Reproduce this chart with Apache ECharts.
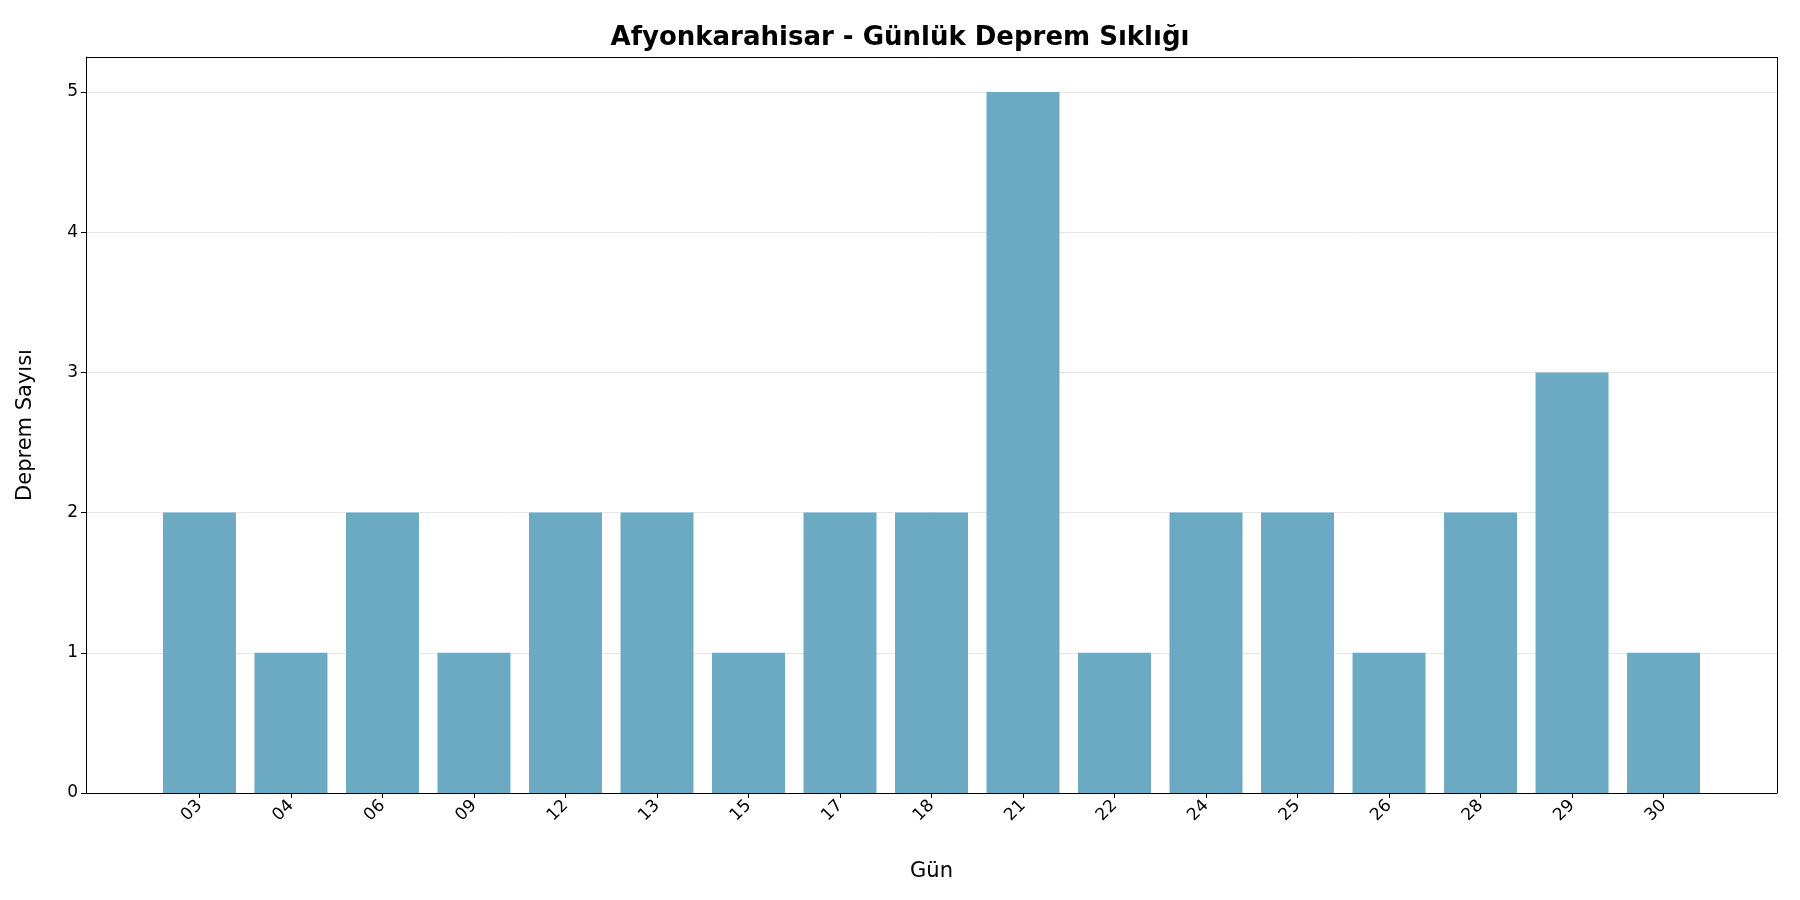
<!DOCTYPE html>
<html><head><meta charset="utf-8">
<script src="https://cdn.jsdelivr.net/npm/echarts@6/dist/echarts.min.js"></script>
<style>html,body{margin:0;padding:0;background:#fff}#c{width:1800px;height:900px}</style>
</head><body><div id="c"></div>
<script>
const days = ["03","04","06","09","12","13","15","17","18","21","22","24","25","26","28","29","30"];
const counts = [2,1,2,1,2,2,1,2,2,5,1,2,2,1,2,3,1];
const yTicks = [0,1,2,3,4,5];
const idx = days.map((d,i)=>i);
const chart = echarts.init(document.getElementById('c'));
const font = 'DejaVu Sans';
chart.setOption({
  animation:false,
  title:{text:'Afyonkarahisar - Günlük Deprem Sıklığı',left:'center',top:20,
    textStyle:{fontFamily:font,fontSize:26,fontWeight:'bold',color:'#000'}},
  grid:{left:86,right:23,top:57,bottom:107},
  xAxis:{type:'value',min:-1.24,max:17.24,name:'Gün',nameLocation:'middle',nameGap:68,
    nameTextStyle:{fontFamily:font,fontSize:21,color:'#000'},
    axisLine:{show:true,onZero:false,lineStyle:{color:'#000'}},
    splitLine:{show:false},
    axisTick:{show:true,customValues:idx,length:5,lineStyle:{color:'#000'}},
    axisLabel:{customValues:idx,rotate:45,fontFamily:font,fontSize:17,color:'#000',margin:10,
      formatter:v=>days[Math.round(v)]}},
  yAxis:{type:'value',min:0,max:5.25,name:'Deprem Sayısı',nameLocation:'middle',nameGap:50,
    nameTextStyle:{fontFamily:font,fontSize:21,color:'#000'},
    axisLine:{show:true,onZero:false,lineStyle:{color:'#000'}},
    axisTick:{show:true,customValues:yTicks,length:5,lineStyle:{color:'#000'}},
    axisLabel:{customValues:yTicks,fontFamily:font,fontSize:17,color:'#000'},
    splitLine:{show:true,lineStyle:{color:'#e6e6e6',width:1}}},
  series:[{type:'bar',barWidth:73,data:counts.map((v,i)=>[i,v]),
    itemStyle:{color:'#6caac4'}},
    {type:'line',data:[],markLine:{silent:true,symbol:'none',label:{show:false},
      lineStyle:{color:'#000',type:'solid',width:1},
      data:[{yAxis:5.25},{xAxis:17.24}]}}]
});
</script></body></html>
